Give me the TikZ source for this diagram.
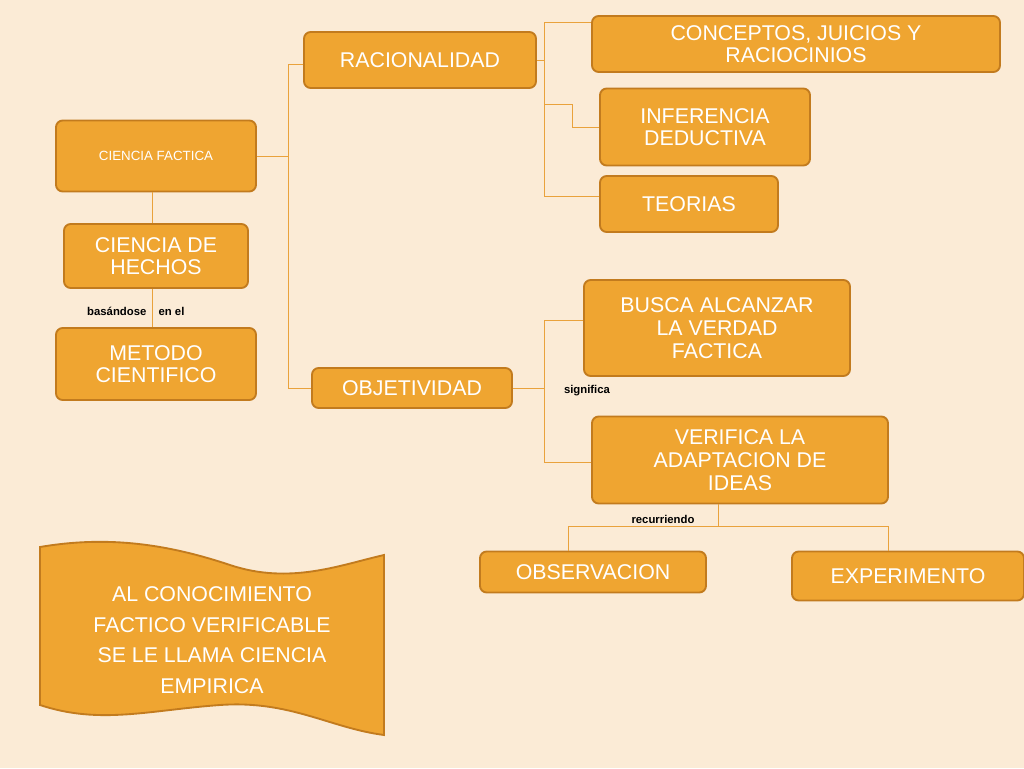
\documentclass[tikz,border=0pt]{standalone}
\usepackage{fontspec}
\setmainfont{Liberation Sans}
\definecolor{bg}{HTML}{FBEBD6}
\definecolor{boxf}{HTML}{EFA531}
\definecolor{boxd}{HTML}{C27B1E}
\definecolor{lnc}{HTML}{E9A23C}
\begin{document}
\begin{tikzpicture}[x=0.75pt,y=-0.75pt,
  box/.style={draw=boxd,fill=boxf,line width=1.4pt,rounded corners=5pt,text=white,align=center,font=\fontsize{16}{17}\selectfont,inner sep=0pt},
  ln/.style={draw=lnc,line width=0.6pt},
  lab/.style={font=\bfseries\fontsize{8.5}{10}\selectfont,inner sep=1pt}]
\fill[bg] (0,0) rectangle (1024,768);
\useasboundingbox (0,0) rectangle (1024,768);
\node[box,minimum width={232*0.75pt},minimum height={56*0.75pt}] (rac) at (420,60) {RACIONALIDAD};
\node[box,minimum width={408*0.75pt},minimum height={56*0.75pt}] (con) at (796,44) {CONCEPTOS, JUICIOS Y\\RACIOCINIOS};
\node[box,minimum width={210*0.75pt},minimum height={77*0.75pt}] (inf) at (705,127) {INFERENCIA\\DEDUCTIVA};
\node[box,minimum width={178*0.75pt},minimum height={56*0.75pt}] (teo) at (689,204) {TEORIAS};
\node[box,minimum width={200*0.75pt},minimum height={71*0.75pt},font=\fontsize{10}{12}\selectfont] (cf) at (156,156) {CIENCIA FACTICA};
\node[box,minimum width={184*0.75pt},minimum height={64*0.75pt}] (ch) at (156,256) {CIENCIA DE\\HECHOS};
\node[box,minimum width={200*0.75pt},minimum height={72*0.75pt}] (mc) at (156,364) {METODO\\CIENTIFICO};
\node[box,minimum width={200*0.75pt},minimum height={40*0.75pt}] (obj) at (412,388) {OBJETIVIDAD};
\node[box,minimum width={266*0.75pt},minimum height={96*0.75pt}] (bus) at (717,328) {BUSCA ALCANZAR\\LA VERDAD\\FACTICA};
\node[box,minimum width={296*0.75pt},minimum height={87*0.75pt}] (ver) at (740,460) {VERIFICA LA\\ADAPTACION DE\\IDEAS};
\node[box,minimum width={226*0.75pt},minimum height={41*0.75pt}] (obs) at (593,572) {OBSERVACION};
\node[box,minimum width={232*0.75pt},minimum height={49*0.75pt}] (exp) at (908,576) {EXPERIMENTO};
% connectors
\coordinate (j1) at (288,156);
\draw[ln] (cf.east) -- (j1);
\draw[ln] (rac.west |- 0,64) -- (288,64) -- (288,388) -- (obj.west);
\coordinate (j2) at (544,60);
\draw[ln] (rac.east) -- (j2);
\draw[ln] (con.west |- 0,22) -- (544,22) -- (544,196) -- (teo.west |- 0,196);
\draw[ln] (544,104) -- (572,104) -- (572,127) -- (inf.west);
\draw[ln] (cf.south -| 152,0) -- (ch.north -| 152,0);
\draw[ln] (ch.south -| 152,0) -- (mc.north -| 152,0);
\node[lab,anchor=east] at (148,311) {basándose};
\node[lab,anchor=west] at (157,311) {en el};
\draw[ln] (obj.east) -- (544,388);
\draw[ln] (bus.west |- 0,320) -- (544,320) -- (544,462) -- (ver.west |- 0,462);
\node[lab] at (587,391) {significa};
\draw[ln] (ver.south -| 718,0) -- (718,526);
\draw[ln] (obs.north -| 568,0) -- (568,526) -- (888,526) -- (exp.north -| 888,0);
\node[lab] at (663,519) {recurriendo};
% banner
\filldraw[fill=boxf,draw=boxd,line width=1.4pt] (40,547) .. controls (110,535) and (170,545) .. (230,565)
  .. controls (290,585) and (340,565) .. (384,555) -- (384,735)
  .. controls (330,728) and (290,700) .. (220,705)
  .. controls (150,710) and (100,725) .. (40,705) -- cycle;
\node[text=white,align=center,font=\fontsize{16}{23}\selectfont] (ban) at (212,640) {AL CONOCIMIENTO\\FACTICO VERIFICABLE\\SE LE LLAMA CIENCIA\\EMPIRICA};
\end{tikzpicture}
\end{document}
